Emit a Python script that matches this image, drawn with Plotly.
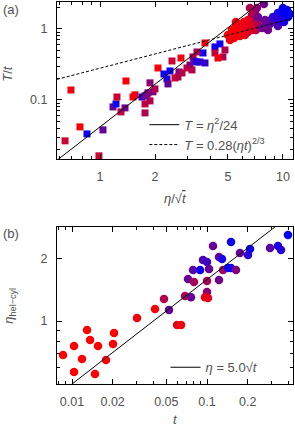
import numpy as np
import plotly.graph_objects as go

# ---------------- Panel (a) data ----------------
# squares: eta/sqrt(t), T/t, colour parameter (0=red .. 1=blue)
sq_x = [0.694, 0.644, 0.777, 0.849, 1.038, 0.987, 1.178, 1.223, 1.302, 1.370,
        1.387, 1.238, 1.515, 1.553, 1.696, 1.762, 1.762, 1.806, 1.876, 1.948,
        1.876, 1.998, 2.075, 2.237, 2.323, 2.353, 2.413, 2.570, 2.702, 2.475,
        2.771, 2.988, 3.103, 3.223, 3.264, 3.389, 3.519, 3.656, 3.389, 3.749,
        2.668, 2.806, 3.182, 4.250, 4.525, 4.250, 4.700, 4.413, 4.821, 3.749,
        1.829, 1.762]
sq_y = [0.138, 0.0265, 0.0417, 0.0332, 0.0378, 0.0163, 0.0797, 0.0878, 0.0678, 0.0772,
        0.185, 0.110, 0.110, 0.118, 0.110, 0.0656, 0.0878, 0.118, 0.0968, 0.130,
        0.174, 0.143, 0.282, 0.232, 0.198, 0.168, 0.256, 0.204, 0.248, 0.354,
        0.390, 0.282, 0.311, 0.403, 0.354, 0.343, 0.343, 0.459, 0.474, 0.635,
        0.211, 0.240, 0.265, 0.558, 0.615, 0.459, 0.403, 0.390, 0.506, 0.332,
        0.126, 0.114]
sq_c = [0.05, 0.2, 0.02, 0.95, 0.6, 0.2, 0.6, 0.95, 0.25, 0.55,
        0.02, 0.2, 0.05, 0.05, 0.9, 0.3, 0.25, 0.2, 0.3, 0.5,
        0.45, 0.3, 0.02, 0.95, 0.9, 0.6, 0.95, 0.15, 0.55, 0.2,
        0.05, 0.2, 0.5, 0.3, 0.6, 0.9, 0.85, 0.95, 0.3, 0.05,
        0.3, 0.3, 0.3, 0.95, 0.95, 0.25, 0.3, 0.05, 0.3, 0.8,
        0.5, 0.55]

# circles
ci_x = [6.601, 7.030, 6.941, 7.300, 7.676, 6.437, 7.119, 6.769,
        7.208, 7.873, 7.300, 6.519, 7.676, 8.074, 8.492, 8.279, 9.044, 8.709, 7.973, 9.391,
        8.819, 9.391, 9.875, 10.25, 10.65, 10.92, 9.630, 10.13, 10.52, 9.157, 10.0,
        5.006, 5.264, 5.536, 5.821, 6.122, 6.437, 5.399, 5.677, 5.970, 6.277, 6.601,
        5.133, 5.821, 5.536, 6.769, 6.199]
ci_y = [1.976, 1.735, 1.339, 1.139, 1.255, 0.907, 0.968, 1.575,
        1.976, 2.249, 1.476, 1.339, 1.033, 1.102, 1.176, 0.968, 1.255, 1.383, 1.339, 1.102,
        1.476, 1.680, 1.793, 1.575, 1.476, 1.627, 1.339, 1.255, 1.852, 1.429, 1.976,
        0.823, 0.968, 1.067, 1.139, 1.255, 1.339, 0.747, 0.878, 0.968, 1.033, 1.139,
        0.700, 0.797, 1.255, 0.968, 0.823]
ci_c = [0.3, 0.3, 0.25, 0.3, 0.35, 0.25, 0.3, 0.3,
        0.45, 0.55, 0.55, 0.5, 0.55, 0.6, 0.65, 0.55, 0.7, 0.65, 0.6, 0.7,
        0.8, 0.9, 0.95, 1.0, 1.0, 1.0, 0.85, 0.9, 1.0, 0.85, 1.0,
        0.02, 0.0, 0.0, 0.05, 0.05, 0.08, 0.02, 0.0, 0.05, 0.1, 0.1,
        0.05, 0.05, 0.05, 0.15, 0.1]

# ---------------- Panel (b) data ----------------
b_t = [0.00858, 0.01035, 0.01035, 0.01186, 0.01292, 0.0136, 0.0148, 0.01558, 0.01786, 0.02012,
       0.02047, 0.0303, 0.0412, 0.0480, 0.0523, 0.0600, 0.0642, 0.0687, 0.0761, 0.0723,
       0.0801, 0.0788, 0.0888, 0.0934, 0.100, 0.1035, 0.100, 0.100, 0.0966, 0.1017,
       0.1108, 0.1227, 0.1227, 0.1292, 0.1314, 0.1431, 0.1506, 0.1506, 0.164, 0.1755,
       0.2082, 0.2012, 0.293, 0.3357, 0.3533, 0.398]
b_eta = [0.688, 0.570, 0.759, 0.658, 0.906, 0.811, 0.558, 0.759, 0.651, 0.776,
         0.876, 1.034, 1.141, 1.274, 1.129, 0.957, 0.957, 1.317, 1.302, 1.588,
         1.537, 1.754, 1.754, 1.958, 1.916, 1.774, 1.554, 1.377, 1.302, 1.289,
         2.285, 1.571, 2.024, 1.980, 1.754, 1.793, 1.793, 2.388, 1.754, 2.116,
         2.211, 2.069, 2.235, 2.285, 2.186, 2.58]
b_c = [0, 0, 0, 0, 0, 0, 0, 0, 0, 0,
       0, 0.05, 0.02, 0.3, 0.6, 0.1, 0.05, 0.35, 0.6, 0.6,
       0.35, 0.65, 0.95, 0.7, 0.75, 0.6, 0.35, 0.45, 0.1, 0.1,
       0.6, 0.55, 0.6, 0.9, 0.35, 0.95, 0.95, 0.95, 0.5, 0.6,
       0.95, 0.85, 0.65, 0.9, 0.85, 1.0]

# fit parameters
a_fit1 = 24.0
a_fit2 = 0.28
b_fit = 5.0

xa_range = [0.582, 11.35]
ya_range = [0.0147, 2.40]
xb_range = [0.00774, 0.4335]
yb_range = [0.5, 2.82]

RB = [[0, "rgb(255,0,0)"], [1, "rgb(0,0,255)"]]
GREY = "#505050"
FONT = "Liberation Sans"

fig = go.Figure()

fig.add_trace(go.Scatter(x=sq_x, y=sq_y, mode="markers", showlegend=False,
                         marker=dict(symbol="square", size=7, color=sq_c, colorscale=RB,
                                     cmin=0, cmax=1, line=dict(width=0)),
                         xaxis="x", yaxis="y"))
fig.add_trace(go.Scatter(x=ci_x, y=ci_y, mode="markers", showlegend=False,
                         marker=dict(symbol="circle", size=8.5, color=ci_c, colorscale=RB,
                                     cmin=0, cmax=1, line=dict(width=0)),
                         xaxis="x", yaxis="y"))

xl = np.logspace(np.log10(xa_range[0]), np.log10(xa_range[1]), 200)
fig.add_trace(go.Scatter(x=xl, y=xl ** 2 / a_fit1, mode="lines",
                         line=dict(color="black", width=1),
                         name="<i>T</i> = <i>η</i><sup>2</sup>/24",
                         legend="legend", xaxis="x", yaxis="y"))
fig.add_trace(go.Scatter(x=xl, y=a_fit2 * xl ** (2 / 3), mode="lines",
                         line=dict(color="black", width=1, dash="3px,2px"),
                         name="<i>T</i> = 0.28(<i>ηt</i>)<sup>2/3</sup>",
                         legend="legend", xaxis="x", yaxis="y"))

fig.add_trace(go.Scatter(x=b_t, y=b_eta, mode="markers", showlegend=False,
                         marker=dict(symbol="circle", size=8.5, color=b_c, colorscale=RB,
                                     cmin=0, cmax=1, line=dict(width=0)),
                         xaxis="x2", yaxis="y2"))
tl = np.logspace(np.log10(xb_range[0]), np.log10(xb_range[1]), 200)
fig.add_trace(go.Scatter(x=tl, y=b_fit * np.sqrt(tl), mode="lines",
                         line=dict(color="black", width=1),
                         name="<i>η</i> = 5.0√<i>t</i>",
                         legend="legend2", xaxis="x2", yaxis="y2"))

common = dict(type="log", showline=True, linecolor="black", linewidth=1.2, mirror="ticks",
              ticks="inside", ticklen=5, tickcolor="black", tickwidth=1,
              showgrid=False, zeroline=False, tickfont=dict(family=FONT, size=12.5, color=GREY),
              ticklabelstandoff=6)

def lg(v):
    return [float(np.log10(v[0])), float(np.log10(v[1]))]

fig.update_layout(
    width=295, height=427, template="simple_white",
    paper_bgcolor="white", plot_bgcolor="white",
    margin=dict(l=57, r=2, t=2, b=43),
    xaxis=dict(common, range=lg(xa_range), anchor="y", domain=[0, 1],
               tickvals=[1, 2, 5, 10], ticktext=["1", "2", "5", "10"],
               minor=dict(tickvals=[0.6, 0.7, 0.8, 0.9, 3, 4, 6, 7, 8, 9],
                          ticks="inside", ticklen=3, tickcolor="black", showgrid=False)),
    yaxis=dict(common, range=lg(ya_range), anchor="x", domain=[0.589, 1],
               tickvals=[0.1, 1], ticktext=["0.1", "1"],
               minor=dict(tickvals=[0.02, 0.03, 0.04, 0.05, 0.06, 0.07, 0.08, 0.09,
                                    0.2, 0.3, 0.4, 0.5, 0.6, 0.7, 0.8, 0.9, 2],
                          ticks="inside", ticklen=3, tickcolor="black", showgrid=False)),
    xaxis2=dict(common, range=lg(xb_range), anchor="y2", domain=[0, 1],
                tickvals=[0.01, 0.02, 0.05, 0.1, 0.2],
                ticktext=["0.01", "0.02", "0.05", "0.1", "0.2"],
                minor=dict(tickvals=[0.008, 0.009, 0.03, 0.04, 0.06, 0.07, 0.08, 0.09, 0.3, 0.4],
                           ticks="inside", ticklen=3, tickcolor="black", showgrid=False)),
    yaxis2=dict(common, range=lg(yb_range), anchor="x2", domain=[0, 0.411],
                tickvals=[1, 2], ticktext=["1", "2"],
                minor=dict(tickvals=[0.6, 0.7, 0.8, 0.9],
                           ticks="inside", ticklen=3, tickcolor="black", showgrid=False)),
    legend=dict(x=0.37, y=0.718, xanchor="left", yanchor="top", bgcolor="rgba(0,0,0,0)",
                font=dict(family=FONT, size=13, color=GREY), itemwidth=30,
                tracegroupgap=0),
    legend2=dict(x=0.46, y=0.083, xanchor="left", yanchor="top", bgcolor="rgba(0,0,0,0)",
                 font=dict(family=FONT, size=13, color=GREY), itemwidth=30),
    font=dict(family=FONT, color=GREY),
)

ann = dict(showarrow=False, font=dict(family=FONT, size=13, color=GREY))
fig.add_annotation(ann, text="<i>T</i>/<i>t</i>", xref="paper", yref="paper",
                   x=0, xshift=-49, y=0.812, textangle=-90, xanchor="center", yanchor="middle")
fig.add_annotation(ann, text="<i>η</i>/√<span style='text-decoration:overline'><i>t</i></span>",
                   xref="paper", yref="paper", x=0.5, y=0.589, yshift=-39,
                   xanchor="center", yanchor="middle")
fig.add_annotation(ann, text="<i>η</i><sub>hel−cyl</sub>", xref="paper", yref="paper",
                   x=0, xshift=-47, y=0.205, textangle=-90, xanchor="center", yanchor="middle")
fig.add_annotation(ann, text="<i>t</i>", xref="paper", yref="paper",
                   x=0.5, y=0, yshift=-35, xanchor="center", yanchor="middle")
fig.add_annotation(ann, text="(a)", xref="paper", yref="paper",
                   x=0, xshift=-46, y=1, yshift=-7, xanchor="center", yanchor="middle")
fig.add_annotation(ann, text="(b)", xref="paper", yref="paper",
                   x=0, xshift=-46, y=0.411, yshift=-7, xanchor="center", yanchor="middle")

fig.write_html("out.html", config={"displayModeBar": False},
               post_script="document.body.style.margin='0';document.body.style.overflow='hidden';")
